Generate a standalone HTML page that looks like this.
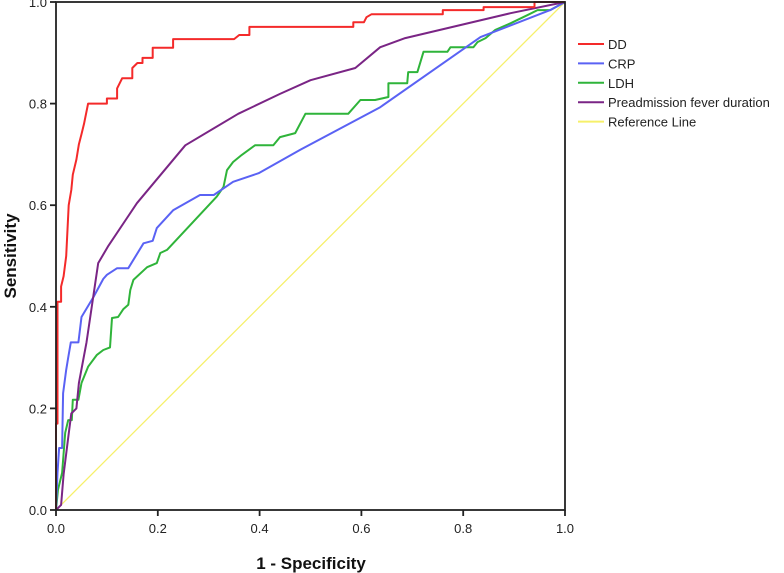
<!DOCTYPE html>
<html><head><meta charset="utf-8"><style>
html,body{margin:0;padding:0;background:#fff;}
svg{display:block;font-family:"Liberation Sans",Arial,sans-serif;}
</style></head><body>
<svg id="chart" width="784" height="573" viewBox="0 0 784 573"></svg>
<script>
const ticks = [0, 0.2, 0.4, 0.6, 0.8, 1.0];
const tickLabels = ["0.0","0.2","0.4","0.6","0.8","1.0"];
const seriesNames = ["DD","CRP","LDH","Preadmission fever duration","Reference Line"];
const seriesColors = ["#f42a2a","#5a62f4","#2fb43a","#7a2585","#f6f06a"];
const ddX = [0,0,0.003,0.003,0.01,0.01,0.015,0.02,0.025,0.03,0.033,0.04,0.045,0.05,0.055,0.063,0.1,0.1,0.12,0.12,0.13,0.15,0.15,0.16,0.17,0.17,0.19,0.19,0.23,0.23,0.35,0.36,0.38,0.38,0.584,0.584,0.605,0.61,0.62,0.76,0.76,0.84,0.84,0.94,0.94,1];
const ddY = [0,0.17,0.17,0.41,0.41,0.44,0.46,0.5,0.6,0.63,0.66,0.69,0.72,0.74,0.76,0.8,0.8,0.81,0.81,0.83,0.85,0.85,0.87,0.88,0.88,0.89,0.89,0.91,0.91,0.927,0.927,0.935,0.935,0.951,0.951,0.96,0.96,0.97,0.976,0.976,0.984,0.984,0.99,0.99,1,1];
const crpX = [0,0.003,0.006,0.012,0.014,0.02,0.024,0.029,0.044,0.05,0.074,0.093,0.1,0.12,0.142,0.172,0.19,0.198,0.23,0.283,0.31,0.348,0.398,0.48,0.637,0.834,0.971,1];
const crpY = [0,0.073,0.122,0.122,0.23,0.276,0.3,0.33,0.33,0.38,0.42,0.455,0.463,0.476,0.476,0.525,0.53,0.555,0.59,0.62,0.62,0.646,0.663,0.709,0.793,0.931,0.984,1];
const ldhX = [0,0.004,0.012,0.018,0.024,0.031,0.033,0.044,0.05,0.063,0.08,0.093,0.106,0.11,0.122,0.132,0.142,0.146,0.152,0.179,0.198,0.205,0.218,0.316,0.329,0.336,0.348,0.365,0.391,0.427,0.44,0.47,0.49,0.574,0.598,0.627,0.653,0.653,0.69,0.692,0.71,0.722,0.769,0.775,0.82,0.828,0.844,0.863,0.893,0.926,0.946,0.971,1];
const ldhY = [0,0.04,0.073,0.152,0.177,0.177,0.217,0.217,0.25,0.282,0.305,0.315,0.32,0.378,0.38,0.395,0.404,0.433,0.453,0.478,0.486,0.506,0.512,0.617,0.636,0.669,0.685,0.699,0.718,0.718,0.734,0.742,0.78,0.78,0.807,0.807,0.813,0.84,0.84,0.862,0.862,0.902,0.902,0.911,0.911,0.921,0.929,0.945,0.958,0.974,0.984,0.984,1];
const pfdX = [0,0.01,0.015,0.025,0.03,0.04,0.045,0.06,0.083,0.103,0.159,0.254,0.358,0.44,0.5,0.588,0.637,0.686,0.893,1];
const pfdY = [0,0.01,0.07,0.15,0.19,0.2,0.25,0.33,0.486,0.52,0.604,0.718,0.78,0.819,0.846,0.87,0.911,0.929,0.978,1];
const refX = [0,1];
const refY = [0,1];

const NS="http://www.w3.org/2000/svg";
const svg=document.getElementById('chart');
const X0=56,X1=565,Y0=510,Y1=2;
function sx(v){return X0+(X1-X0)*v;}
function sy(v){return Y0-(Y0-Y1)*v;}
function mk(tag,attrs,parent){const e=document.createElementNS(NS,tag);for(const k in attrs)e.setAttribute(k,attrs[k]);(parent||svg).appendChild(e);return e;}

const plot=mk('g',{});



const series=[[refX,refY],[ldhX,ldhY],[crpX,crpY],[pfdX,pfdY],[ddX,ddY]];
const idx=[4,2,1,3,0];
const names=['reference-line','ldh-curve','crp-curve','fever-duration-curve','dd-curve'];
series.forEach((s,i)=>{
  const pts=s[0].map((x,j)=>sx(x).toFixed(1)+','+sy(s[1][j]).toFixed(1)).join(' ');
  const pl=mk('polyline',{points:pts,fill:'none',stroke:seriesColors[idx[i]],'stroke-width':idx[i]===4?1.3:2,'stroke-linejoin':'round'},plot);
  
  
});

const frame=mk('rect',{x:X0,y:Y1,width:X1-X0,height:Y0-Y1,fill:'none',stroke:'#222','stroke-width':1.8});



ticks.forEach((t,i)=>{
  mk('line',{x1:sx(t),x2:sx(t),y1:Y0,y2:Y0+6,stroke:'#222','stroke-width':1.8});
  const tx=mk('text',{x:sx(t),y:533,'text-anchor':'middle','font-size':13,fill:'#222'});
  tx.textContent=tickLabels[i];
  
  
  mk('line',{x1:X0-6,x2:X0,y1:sy(t),y2:sy(t),stroke:'#222','stroke-width':1.8});
  const ty=mk('text',{x:47,y:sy(t)+5,'text-anchor':'end','font-size':13,fill:'#222'});
  ty.textContent=tickLabels[i];
  
  
});

const xt=mk('text',{x:311,y:569,'text-anchor':'middle','font-size':17,'font-weight':'bold',fill:'#111'});
xt.textContent='1 - Specificity';


const yt=mk('text',{x:0,y:0,'text-anchor':'middle','font-size':17,'font-weight':'bold',fill:'#111',transform:'translate(16,256) rotate(-90)'});
yt.textContent='Sensitivity';



const lg=mk('g',{});


seriesNames.forEach((n,i)=>{
  const y=44+i*19.4;
  const g=mk('g',{},lg);
  
  
  mk('line',{x1:578,x2:604,y1:y,y2:y,stroke:seriesColors[i],'stroke-width':2},g);
  const t=mk('text',{x:608,y:y+5,'font-size':13,fill:'#222'},g);
  t.textContent=n;
});
</script>
</body></html>
